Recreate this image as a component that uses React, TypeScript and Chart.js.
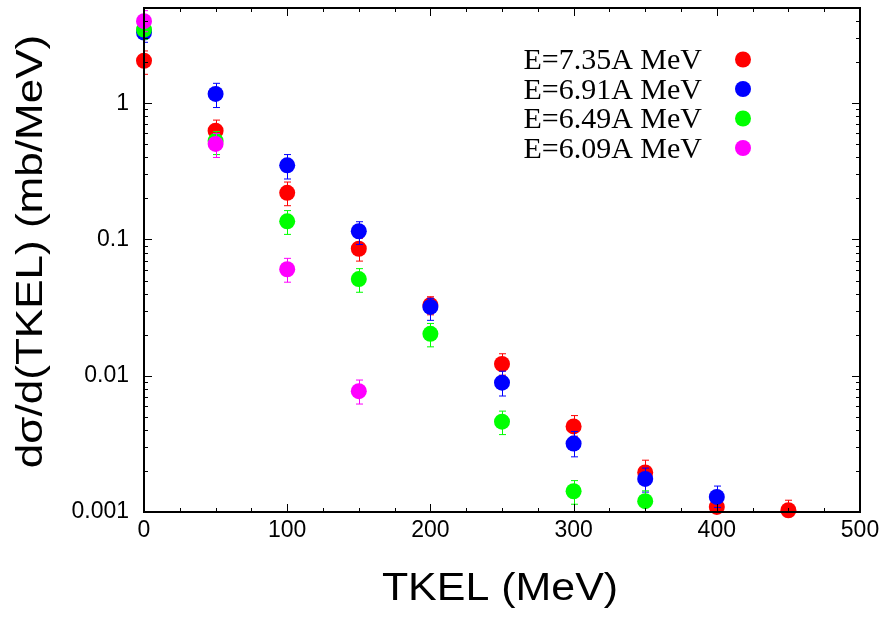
import React, { useEffect, useRef } from 'react';
import { Chart, registerables } from 'chart.js';

Chart.register(...registerables);

// ---- data ----
const seriesLabels = ['E=7.35A MeV', 'E=6.91A MeV', 'E=6.49A MeV', 'E=6.09A MeV'];
const seriesColors = ['#ff0000', '#0000ff', '#00ff00', '#ff00ff'];

const xRed = [0, 50, 100, 150, 200, 250, 300, 350, 400, 450];
const yRed = [2.05, 0.628, 0.22, 0.0855, 0.033, 0.0122, 0.00425, 0.00195, 0.00109, 0.00103];
const loRed = [1.63, 0.52, 0.177, 0.0694, 0.028, 0.0101, 0.0036, 0.0016, 0.0009, 0.00087];
const hiRed = [2.42, 0.752, 0.264, 0.102, 0.038, 0.0145, 0.0051, 0.0024, 0.0013, 0.00122];

const xBlue = [0, 50, 100, 150, 200, 250, 300, 350, 400];
const yBlue = [3.3, 1.17, 0.35, 0.115, 0.032, 0.0089, 0.00318, 0.00175, 0.00129];
const loBlue = [2.8, 0.93, 0.278, 0.092, 0.0255, 0.0071, 0.00254, 0.0014, 0.00108];
const hiBlue = [3.9, 1.4, 0.42, 0.135, 0.037, 0.0108, 0.0039, 0.0021, 0.00155];

const xGreen = [0, 50, 100, 150, 200, 250, 300, 350];
const yGreen = [3.47, 0.53, 0.136, 0.0512, 0.0203, 0.0046, 0.00142, 0.0012];
const loGreen = [2.95, 0.42, 0.109, 0.041, 0.0163, 0.0037, 0.00114, 0.00098];
const hiGreen = [4.0, 0.62, 0.163, 0.0611, 0.0242, 0.0055, 0.0017, 0.00143];

const xMag = [0, 50, 100, 150];
const yMag = [4.0, 0.503, 0.0605, 0.0077];
const loMag = [3.35, 0.4, 0.0486, 0.0062];
const hiMag = [4.78, 0.6, 0.0727, 0.0093];

const xTickLabels = [0, 100, 200, 300, 400, 500];
const yTickLabels = [0.001, 0.01, 0.1, 1];

const xTitle = 'TKEL (MeV)';
const yTitle = 'dσ/d(TKEL) (mb/MeV)';

const allX = [xRed, xBlue, xGreen, xMag];
const allY = [yRed, yBlue, yGreen, yMag];
const allLo = [loRed, loBlue, loGreen, loMag];
const allHi = [hiRed, hiBlue, hiGreen, hiMag];

const errorBarPlugin = {
  id: 'errorBars',
  beforeDatasetDraw(chart: any, args: any) {
    const ds = chart.data.datasets[args.index];
    if (!ds.errLow) return;
    const meta = chart.getDatasetMeta(args.index);
    const ys = chart.scales.y;
    const ctx = chart.ctx;
    const a = chart.chartArea;
    ctx.save();
    ctx.beginPath();
    ctx.rect(a.left, a.top - 20, a.right - a.left, a.bottom - a.top + 20);
    ctx.clip();
    ctx.strokeStyle = ds.backgroundColor;
    ctx.lineWidth = 1;
    meta.data.forEach((pt: any, i: number) => {
      const x = Math.round(pt.x) + 0.5;
      const yh = ys.getPixelForValue(ds.errHigh[i]);
      const yl = ys.getPixelForValue(ds.errLow[i]);
      ctx.beginPath();
      ctx.moveTo(x, yh);
      ctx.lineTo(x, yl);
      ctx.moveTo(x - 3.5, yh);
      ctx.lineTo(x + 3.5, yh);
      ctx.moveTo(x - 3.5, yl);
      ctx.lineTo(x + 3.5, yl);
      ctx.stroke();
    });
    ctx.restore();
  },
};

const framePlugin = {
  id: 'frame',
  afterDraw(chart: any) {
    const ctx = chart.ctx;
    const a = chart.chartArea;
    const xs = chart.scales.x;
    const ys = chart.scales.y;
    ctx.save();
    // ticks
    ctx.strokeStyle = '#000';
    ctx.lineWidth = 1;
    ctx.beginPath();
    for (let v = xs.min; v <= xs.max + 1e-9; v += 25) {
      const px = Math.round(xs.getPixelForValue(v)) + 0.5;
      const len = v % 100 === 0 ? 8 : 4;
      ctx.moveTo(px, a.bottom);
      ctx.lineTo(px, a.bottom - len);
      ctx.moveTo(px, a.top);
      ctx.lineTo(px, a.top + len);
    }
    for (let e = -3; e <= 0; e++) {
      for (let k = 1; k <= 9; k++) {
        const v = k * Math.pow(10, e);
        if (v < ys.min - 1e-12 || v > ys.max) continue;
        const py = Math.round(ys.getPixelForValue(v)) + 0.5;
        const len = k === 1 ? 8 : 4;
        ctx.moveTo(a.left, py);
        ctx.lineTo(a.left + len, py);
        ctx.moveTo(a.right, py);
        ctx.lineTo(a.right - len, py);
      }
    }
    ctx.stroke();
    // border
    ctx.lineWidth = 2;
    ctx.strokeRect(a.left, a.top, a.right - a.left, a.bottom - a.top);

    // legend
    ctx.font = '30px "Liberation Serif", "Times New Roman", serif';
    ctx.textAlign = 'right';
    ctx.textBaseline = 'alphabetic';
    seriesLabels.forEach((lab, i) => {
      const base = 69 + i * 29.5;
      ctx.fillStyle = '#000';
      ctx.fillText(lab, 702, base);
      ctx.fillStyle = seriesColors[i];
      ctx.beginPath();
      ctx.arc(743, base - 9.5, 8, 0, Math.PI * 2);
      ctx.fill();
    });

    // axis titles
    ctx.fillStyle = '#000';
    ctx.font = '38px "Liberation Sans", Arial, sans-serif';
    ctx.textAlign = 'center';
    ctx.textBaseline = 'alphabetic';
    ctx.save();
    ctx.translate((a.left + a.right) / 2 - 2, 600);
    ctx.scale(1.13, 1);
    ctx.fillText(xTitle, 0, 0);
    ctx.restore();

    ctx.save();
    ctx.font = '37px "Liberation Sans", Arial, sans-serif';
    ctx.textBaseline = 'middle';
    ctx.translate(31.5, 251.5);
    ctx.rotate(-Math.PI / 2);
    ctx.scale(1.19, 1);
    ctx.fillText(yTitle, 0, 0);
    ctx.restore();

    ctx.restore();
  },
};

export default function App() {
  const ref = useRef<HTMLCanvasElement>(null);
  useEffect(() => {
    if (!ref.current) return;
    const datasets = seriesLabels.map((lab, i) => ({
      label: lab,
      data: allX[i].map((x, j) => ({ x, y: allY[i][j] })),
      errLow: allLo[i],
      errHigh: allHi[i],
      backgroundColor: seriesColors[i],
      borderColor: seriesColors[i],
      borderWidth: 0,
      pointRadius: 8,
      pointHoverRadius: 8,
      showLine: false,
      clip: false as any,
      order: 4 - i,
    }));
    const chart = new Chart(ref.current, {
      type: 'scatter',
      data: { datasets: datasets as any },
      options: {
        animation: false,
        responsive: false,
        layout: { padding: { top: 5, right: 28, left: 0, bottom: 0 } },
        plugins: { legend: { display: false }, tooltip: { enabled: false } },
        scales: {
          x: {
            type: 'linear',
            min: 0,
            max: 500,
            grid: { display: false, drawTicks: false },
            border: { display: false },
            afterFit: (s: any) => {
              s.height = 105;
              s.paddingLeft = 0;
              s.paddingRight = 0;
              s.paddingTop = 0;
              s.paddingBottom = 0;
            },
            afterBuildTicks: (s: any) => { s.ticks = xTickLabels.map((v) => ({ value: v })); },
            ticks: {
              autoSkip: false,
              maxRotation: 0,
              padding: 5,
              color: '#000',
              font: { family: '"Liberation Sans", Arial, sans-serif', size: 23 },
              callback: (v: any) => String(v),
            },
          },
          y: {
            type: 'logarithmic',
            min: 0.001,
            max: 5,
            grid: { display: false, drawTicks: false },
            border: { display: false },
            afterFit: (s: any) => {
              s.width = 144;
              s.paddingTop = 0;
              s.paddingBottom = 0;
              s.paddingLeft = 0;
              s.paddingRight = 0;
            },
            afterBuildTicks: (s: any) => { s.ticks = yTickLabels.map((v) => ({ value: v })); },
            ticks: {
              autoSkip: false,
              padding: 15,
              color: '#000',
              font: { family: '"Liberation Sans", Arial, sans-serif', size: 23 },
              callback: (v: any) => String(Number(Number(v).toPrecision(1))),
            },
          },
        },
      },
      plugins: [errorBarPlugin, framePlugin],
    });
    return () => chart.destroy();
  }, []);
  return (
    <div style={{ position: 'absolute', left: 0, top: 0, width: 888, height: 617, background: '#fff' }}>
      <canvas ref={ref} width={888} height={617} style={{ display: 'block' }} />
    </div>
  );
}
